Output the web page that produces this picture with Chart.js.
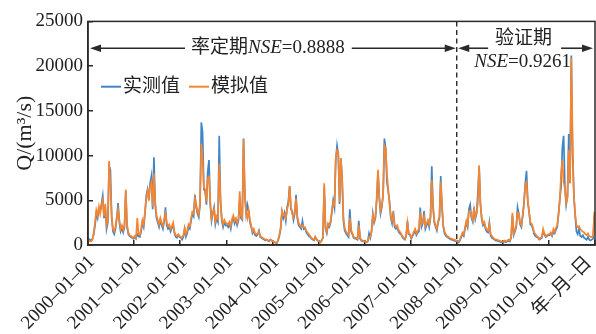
<!DOCTYPE html>
<html><head><meta charset="utf-8">
<script src="https://cdn.jsdelivr.net/npm/chart.js@4/dist/chart.umd.min.js"></script>
<style>html,body{margin:0;padding:0;background:#fff;}</style>
</head><body>
<canvas id="c" width="596" height="334"></canvas>
<script>
// ---- data (10-day samples, m3/s) ----
const years = [2000,2001,2002,2003,2004,2005,2006,2007,2008,2009,2010];
const obs2000 = [700,600,500,700,1200,2200,3500,3000,4000,3800,4600,5500,3000,4200,1800,2500,8800,8400,3000,1500,1200,1800,3000,4700,2500,1500,1900,1400,2000,6000,2000,1200,1000,900,800,700];
const sim2000 = [500,400,400,600,1400,2600,3900,3300,4300,3500,4400,5000,3200,4600,2200,2800,9400,6500,3300,1800,1500,2100,3200,4000,2800,1800,2200,1700,2300,6200,2300,1400,1100,1000,900,800];
const obs2001 = [900,700,1200,1000,900,1500,2500,2000,3500,5500,6200,5000,6900,7700,4000,9800,4500,3000,2500,2000,2800,2200,1800,2600,4200,2200,1800,2000,1500,1900,2300,1300,900,800,1100,900];
const sim2001 = [1000,800,3000,1200,1100,1800,2800,2300,3700,5200,6000,5300,6500,7000,4300,8000,4800,3300,2800,2300,3000,2500,2100,2800,3500,2500,2100,2300,1800,2100,2500,1500,1100,1000,1200,1000];
const obs2002 = [800,600,900,1800,900,1300,2000,1800,2700,3500,3200,5600,4200,3500,3100,4500,13700,12600,6200,6000,4500,8200,9500,4500,2700,3500,4200,2300,3000,2600,12200,4900,2700,2000,2600,2200];
const sim2002 = [900,800,1100,1900,1200,1600,2300,2100,3000,3700,3500,5200,4500,3800,3400,4800,11300,9500,6500,6200,4800,7500,7600,4800,3000,3700,4000,2600,3200,2900,9100,5000,3000,2300,2800,2500];
const obs2003 = [2200,2000,2400,1800,2700,3100,2400,2800,2200,2700,5000,3000,2800,11900,5700,3500,4500,3800,2500,2000,1300,1600,1100,1000,1200,1600,900,800,700,600,500,600,500,400,600,500];
const sim2003 = [2400,2300,2600,2100,2900,3300,2700,3000,2500,2900,6000,3300,3000,11800,5500,3700,3000,3900,2800,2200,1500,1800,1300,1200,1300,1500,1000,900,800,700,600,600,500,500,600,500];
const obs2004 = [400,300,250,200,500,1000,1800,3700,3000,3600,2700,4200,4900,6600,4000,3800,2800,3500,5600,3000,2200,2000,1800,2700,1800,1900,1400,1200,1000,900,700,600,500,900,600,500];
const sim2004 = [400,300,300,250,600,1200,2000,3800,3300,3400,3000,4000,4500,6600,4300,3500,3100,3700,5200,3200,2500,2200,2000,2200,2000,2000,1600,1400,1200,1000,800,700,600,900,700,500];
const obs2005 = [400,300,500,800,6500,1800,1300,2200,2000,2500,3800,5000,4200,9500,11100,10100,4600,9700,7500,2700,1600,1300,1100,900,4000,1500,1200,800,700,700,600,2700,700,500,400,400];
const sim2005 = [400,300,500,900,6900,2000,1500,2400,2200,2700,3600,4800,4500,9700,10600,10400,4800,9700,7200,3000,1900,1500,1300,1100,3000,1700,1300,900,800,800,700,2200,800,600,500,400];
const obs2006 = [400,300,400,1300,800,1500,3500,2500,3000,5000,8200,5300,3500,4200,5700,11900,10800,7000,6000,4900,3000,2400,3800,2000,1800,2000,1500,1300,1200,900,700,600,1000,2700,1200,1100];
const sim2006 = [400,300,400,900,900,1700,3300,2700,3200,5300,8400,5500,3800,4400,5500,11100,10800,8000,6200,4600,3300,2700,3400,2300,2000,2200,1700,1500,1300,1000,800,700,1000,2500,1300,1200];
const obs2007 = [700,1000,1300,1600,1100,1400,1500,4200,2000,2400,3800,1800,2200,2600,2000,3000,8800,4200,2500,2000,1600,2500,3000,7700,4200,2000,1300,1000,900,800,700,600,600,500,500,400];
const sim2007 = [800,1100,1500,1800,1300,1600,1700,3700,2300,2600,3200,2100,2400,2800,2300,3200,7300,4400,2700,2200,1800,2700,3200,7100,4400,2200,1500,1200,1000,900,800,700,700,600,600,500];
const obs2008 = [400,300,500,900,1200,1000,1800,2500,2000,4000,4500,3000,2600,4200,2900,3500,5800,8700,4700,2900,2200,2400,1800,1500,1400,2500,1000,800,700,600,500,500,400,400,300,300];
const sim2008 = [500,400,600,1000,1400,1200,2000,2700,2200,3800,3800,3200,2800,4000,3100,3600,4700,8900,4500,3100,2400,2600,2000,1700,1600,2300,1200,1000,800,700,600,600,500,500,400,400];
const obs2009 = [300,400,300,400,500,400,800,3300,1100,1500,2000,4200,3400,2300,2000,3200,4700,6800,8300,4800,3800,2300,2200,1800,1200,1000,900,800,600,700,800,1500,1200,900,1000,1100];
const sim2009 = [400,500,400,500,600,500,900,3600,1300,1700,2200,3600,3600,2500,2200,3400,4500,6700,7000,5000,3600,2500,2400,2000,1400,1200,1000,900,700,800,900,1800,1300,1000,1100,1200];
const obs2010 = [1100,1300,1000,1400,1300,1700,2000,3500,5100,6500,10900,12200,6500,4500,5500,12400,6900,21200,10000,5500,3300,1500,1200,1800,1000,900,1100,800,700,600,900,600,500,600,700,3300];
const sim2010 = [1200,1400,1100,1800,1500,1900,2200,3300,5000,8000,9500,7000,6300,4700,5300,10600,6900,20900,11700,5500,3500,2200,2000,2100,1800,1600,1500,1400,1200,1100,1300,1000,900,900,1000,3700];
const observedByYear = [obs2000,obs2001,obs2002,obs2003,obs2004,obs2005,obs2006,obs2007,obs2008,obs2009,obs2010];
const simulatedByYear = [sim2000,sim2001,sim2002,sim2003,sim2004,sim2005,sim2006,sim2007,sim2008,sim2009,sim2010];
const seriesNames = ['实测值','模拟值'];
const xTickValues = [2000,2001,2002,2003,2004,2005,2006,2007,2008,2009,2010,2011];
const xTickLabels = ['2000–01–01','2001–01–01','2002–01–01','2003–01–01','2004–01–01','2005–01–01','2006–01–01','2007–01–01','2008–01–01','2009–01–01','2010–01–01','年–月–日'];
const yTickValues = [0,5000,10000,15000,20000,25000];
const yTitle = 'Q/(m³/s)';
const splitYear = 2008;
const calLabel = ['率定期','NSE','=0.8888'];
const valLabel = '验证期';
const valNse = ['NSE','=0.9261'];

// ---- styling ----
const BLUE = '#3f86c8', ORANGE = '#f7852f', INK = '#2a2a2a';
const FONT = "'Liberation Serif','Noto Sans CJK SC',serif";
Chart.defaults.font.family = FONT;
Chart.defaults.font.size = 19;
Chart.defaults.color = '#222';

function toPoints(arrs){
  const pts = [];
  arrs.forEach((a,k)=>a.forEach((v,i)=>pts.push({x: years[k] + (i+0.5)/a.length, y: v})));
  return pts;
}

function mixedText(ctx, parts, cx, cy){
  let total = 0;
  const widths = parts.map(([t,it])=>{ctx.font=(it?'italic ':'')+'19px '+FONT; const w=ctx.measureText(t).width; total+=w; return w;});
  let x = cx - total/2;
  ctx.textAlign='left'; ctx.textBaseline='middle'; ctx.fillStyle='#222';
  parts.forEach(([t,it],i)=>{ctx.font=(it?'italic ':'')+'19px '+FONT; ctx.fillText(t,x,cy); x+=widths[i];});
  return [cx-total/2, cx+total/2];
}
function arrowHead(ctx, tipX, y, dir){
  ctx.beginPath();
  ctx.moveTo(tipX, y);
  ctx.lineTo(tipX - dir*11, y-3.8);
  ctx.lineTo(tipX - dir*11, y+3.8);
  ctx.closePath(); ctx.fill();
}
function hline(ctx,x1,x2,y){ctx.beginPath();ctx.moveTo(x1,y);ctx.lineTo(x2,y);ctx.stroke();}

const annot = {
  id:'annot',
  afterDatasetsDraw(chart){
    const {ctx, chartArea:a, scales:{x,y}} = chart;
    ctx.save();
    // frame
    ctx.strokeStyle = INK; ctx.lineWidth = 1.5;
    ctx.strokeRect(a.left, a.top, a.right-a.left, a.bottom-a.top);
    // split line
    const xs = x.getPixelForValue(splitYear);
    ctx.setLineDash([5,3.5]); ctx.lineWidth=1.4;
    ctx.beginPath(); ctx.moveTo(xs, a.top); ctx.lineTo(xs, a.bottom); ctx.stroke();
    ctx.setLineDash([]);
    // arrows
    const ya = y.getPixelForValue(22000);
    ctx.fillStyle = INK; ctx.strokeStyle = INK; ctx.lineWidth = 1.6;
    const x0 = x.getPixelForValue(2000)+2, x1 = xs-1, x2 = xs+1.5, x3 = x.getPixelForValue(2011)-2;
    const [l1,r1] = mixedText(ctx, [[calLabel[0],false],[calLabel[1],true],[calLabel[2],false]], (x0+x1)/2 - 5, ya);
    ctx.strokeStyle = INK; ctx.fillStyle = INK;
    hline(ctx, x0+4, l1-6, ya); hline(ctx, r1+7, x1-4, ya);
    arrowHead(ctx, x0, ya, -1); arrowHead(ctx, x1, ya, 1);
    // validation
    const cxv = (x2+x3)/2 - 2;
    ctx.font = '19px '+FONT; ctx.textAlign='center'; ctx.textBaseline='middle'; ctx.fillStyle='#222';
    const wv = ctx.measureText(valLabel).width;
    ctx.fillText(valLabel, cxv, y.getPixelForValue(23000));
    mixedText(ctx, [[valNse[0],true],[valNse[1],false]], cxv-1, y.getPixelForValue(20500));
    ctx.strokeStyle = INK; ctx.fillStyle = INK;
    hline(ctx, x2+4, cxv-wv/2-7, ya); hline(ctx, cxv+wv/2+9, x3-4, ya);
    arrowHead(ctx, x2, ya, -1); arrowHead(ctx, x3, ya, 1);
    // legend
    const ly = y.getPixelForValue(17700);
    const cols = [BLUE, ORANGE];
    let lx = a.left + 13;
    seriesNames.forEach((n,i)=>{
      ctx.strokeStyle = cols[i]; ctx.lineWidth = 2;
      hline(ctx, lx, lx+20, ly);
      ctx.font = '19px '+FONT; ctx.fillStyle='#222'; ctx.textAlign='left'; ctx.textBaseline='middle';
      ctx.fillText(n, lx+22, ly);
      lx += 88;
    });
    ctx.restore();
  },
  afterDraw(chart){
    // rotated x tick labels, anchored at each tick through the x scale
    const {ctx, chartArea:a, scales:{x}} = chart;
    ctx.save();
    ctx.font = '19px '+FONT; ctx.fillStyle = '#222';
    ctx.textAlign = 'right'; ctx.textBaseline = 'middle';
    xTickValues.forEach((v,i)=>{
      const last = i === xTickValues.length-1;
      const px = x.getPixelForValue(v) + (last ? -6 : 4);
      const py = a.bottom + (last ? 15 : 14);
      ctx.save(); ctx.translate(px, py); ctx.rotate(-Math.PI/4);
      ctx.fillText(xTickLabels[i], 0, 0);
      ctx.restore();
    });
    ctx.restore();
  }
};

new Chart(document.getElementById('c').getContext('2d'), {
  type:'line',
  data:{datasets:[
    {label:seriesNames[0], data:toPoints(observedByYear), borderColor:BLUE, borderWidth:1.7, pointRadius:0, tension:0, order:2, fill:false},
    {label:seriesNames[1], data:toPoints(simulatedByYear), borderColor:ORANGE, borderWidth:1.7, pointRadius:0, tension:0, order:1, fill:false}
  ]},
  options:{
    responsive:false, animation:false,
    layout:{autoPadding:false, padding:{left:0,right:1,top:17,bottom:0}},
    plugins:{legend:{display:false}, tooltip:{enabled:false}},
    scales:{
      x:{type:'linear', min:2000, max:2011,
        afterBuildTicks:s=>{s.ticks = xTickValues.map(v=>({value:v}));},
        ticks:{display:false},
        grid:{drawOnChartArea:false, drawTicks:true, tickLength:-5, color:INK, lineWidth:1.5},
        border:{display:true, color:INK, width:1.5},
        afterFit:s=>{s.height=89; s.paddingLeft=0; s.paddingRight=0;}
      },
      y:{type:'linear', min:0, max:25000,
        afterBuildTicks:s=>{s.ticks = yTickValues.map(v=>({value:v}));},
        ticks:{padding:10, color:'#222', font:{size:19}, callback:(v)=>String(v)},
        grid:{drawOnChartArea:false, drawTicks:true, tickLength:-5, color:INK, lineWidth:1.5},
        border:{display:true, color:INK, width:1.5},
        title:{display:true, text:yTitle, font:{size:22}, color:'#222', padding:{top:12,bottom:0}},
        afterFit:s=>{s.width=88;}
      }
    }
  },
  plugins:[annot]
});
</script>
</body></html>
